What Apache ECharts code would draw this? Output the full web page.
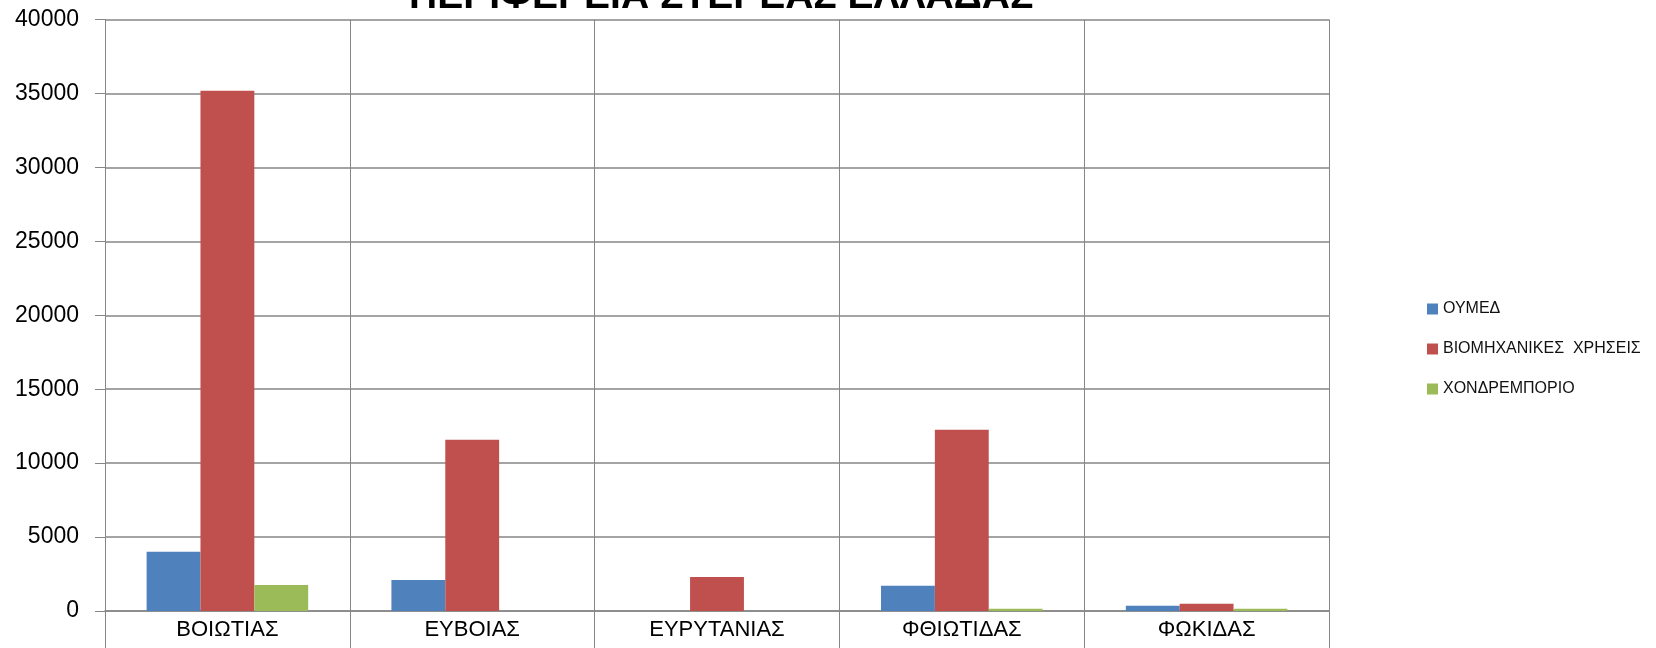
<!DOCTYPE html>
<html>
<head>
<meta charset="utf-8">
<script src="https://cdn.jsdelivr.net/npm/echarts@6/dist/echarts.min.js"></script>
<style>
  html, body { margin: 0; padding: 0; background: #fff; }
  #chart { width: 1656px; height: 648px; }
</style>
</head>
<body>
<div id="chart"></div>
<script>
// νομοί και τιμές ανά χρήση
var categories = ['ΒΟΙΩΤΙΑΣ', 'ΕΥΒΟΙΑΣ', 'ΕΥΡΥΤΑΝΙΑΣ', 'ΦΘΙΩΤΙΔΑΣ', 'ΦΩΚΙΔΑΣ'];
var seriesNames = ['ΟΥΜΕΔ', 'ΒΙΟΜΗΧΑΝΙΚΕΣ  ΧΡΗΣΕΙΣ', 'ΧΟΝΔΡΕΜΠΟΡΙΟ'];
var oumed = [4000, 2100, 0, 1700, 355];
var viomichanikes = [35180, 11580, 2300, 12250, 490];
var chondremporio = [1760, 0, 0, 155, 155];

var chart = echarts.init(document.getElementById('chart'));
var gridColor = '#868686';
var font = 'Liberation Sans, Arial, sans-serif';

var option = {
  animation: false,
  backgroundColor: '#fff',
  title: {
    text: 'ΠΕΡΙΦΕΡΕΙΑ ΣΤΕΡΕΑΣ ΕΛΛΑΔΑΣ',
    left: 409,
    top: -22,
    padding: 0,
    textStyle: {
      fontFamily: font,
      fontWeight: 'bold',
      fontSize: 39,
      color: '#000'
    }
  },
  legend: {
    orient: 'vertical',
    left: 1422,
    top: 296,
    itemWidth: 11,
    itemHeight: 11,
    itemGap: 24,
    icon: 'rect',
    textStyle: {
      fontFamily: font,
      fontSize: 16,
      color: '#111'
    },
    data: seriesNames
  },
  grid: {
    left: 105,
    right: 327,
    top: 19.5,
    bottom: 37
  },
  xAxis: {
    type: 'category',
    data: categories,
    axisLine: { lineStyle: { color: gridColor, width: 1.5 } },
    axisTick: { show: true, length: 40, lineStyle: { color: gridColor } },
    splitLine: { show: true, lineStyle: { color: gridColor, width: 1 } },
    axisLabel: {
      margin: 8,
      fontFamily: font,
      fontSize: 22,
      color: '#000'
    }
  },
  yAxis: {
    type: 'value',
    min: 0,
    max: 40000,
    interval: 5000,
    axisLine: { show: true, lineStyle: { color: gridColor } },
    axisTick: { show: true, length: 10, lineStyle: { color: gridColor } },
    splitLine: { lineStyle: { color: gridColor, width: 1.5 } },
    axisLabel: {
      margin: 26,
      fontFamily: font,
      fontSize: 23,
      color: '#000',
      formatter: function (v) { return String(v); }
    }
  },
  series: [
    {
      name: seriesNames[0],
      type: 'bar',
      data: oumed,
      barGap: 0,
      barCategoryGap: '34%',
      itemStyle: { color: '#4F81BD' }
    },
    {
      name: seriesNames[1],
      type: 'bar',
      data: viomichanikes,
      barGap: 0,
      barCategoryGap: '34%',
      itemStyle: { color: '#C0504D' }
    },
    {
      name: seriesNames[2],
      type: 'bar',
      data: chondremporio,
      barGap: 0,
      barCategoryGap: '34%',
      itemStyle: { color: '#9BBB59' }
    }
  ]
};

chart.setOption(option);
</script>
</body>
</html>
